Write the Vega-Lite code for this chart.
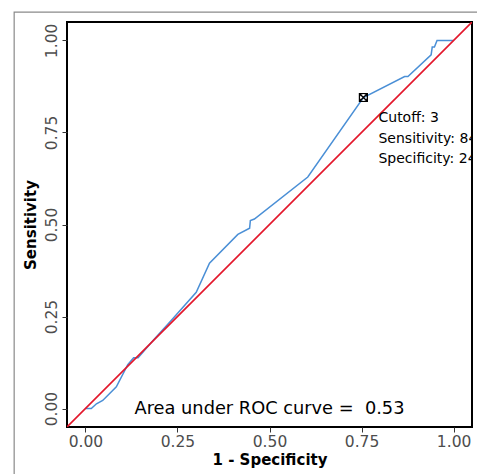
{
  "$schema": "https://vega.github.io/schema/vega-lite/v6.json",
  "width": 405,
  "height": 405,
  "autosize": "none",
  "padding": {"left": 67, "top": 22, "right": 5, "bottom": 47},
  "background": "white",
  "config": {
    "font": "DejaVu Sans",
    "view": {"stroke": "black", "strokeWidth": 2},
    "axis": {
      "grid": false,
      "domain": false,
      "ticks": true,
      "tickSize": 5,
      "tickColor": "#333333",
      "tickWidth": 1,
      "labelFont": "DejaVu Sans",
      "labelFontSize": 15.5,
      "labelColor": "#4D4D4D",
      "titleFont": "DejaVu Sans",
      "titleFontSize": 15,
      "titleFontWeight": "bold",
      "titleColor": "black"
    }
  },
  "datasets": {
    "roc": [
      {"fpr": 0.0, "tpr": 0.0},
      {"fpr": 0.016, "tpr": 0.0},
      {"fpr": 0.03, "tpr": 0.013},
      {"fpr": 0.047, "tpr": 0.022},
      {"fpr": 0.084, "tpr": 0.059},
      {"fpr": 0.115, "tpr": 0.119},
      {"fpr": 0.131, "tpr": 0.138},
      {"fpr": 0.143, "tpr": 0.138},
      {"fpr": 0.188, "tpr": 0.19},
      {"fpr": 0.233, "tpr": 0.239},
      {"fpr": 0.301, "tpr": 0.316},
      {"fpr": 0.337, "tpr": 0.395},
      {"fpr": 0.414, "tpr": 0.473},
      {"fpr": 0.446, "tpr": 0.49},
      {"fpr": 0.448, "tpr": 0.511},
      {"fpr": 0.459, "tpr": 0.515},
      {"fpr": 0.604, "tpr": 0.629},
      {"fpr": 0.755, "tpr": 0.845},
      {"fpr": 0.867, "tpr": 0.902},
      {"fpr": 0.876, "tpr": 0.902},
      {"fpr": 0.939, "tpr": 0.961},
      {"fpr": 0.942, "tpr": 0.982},
      {"fpr": 0.948, "tpr": 0.982},
      {"fpr": 0.955, "tpr": 1.0},
      {"fpr": 1.0, "tpr": 1.0}
    ],
    "diag": [
      {"fpr": -0.05, "tpr": -0.05},
      {"fpr": 1.05, "tpr": 1.05}
    ],
    "cut": [{"fpr": 0.755, "tpr": 0.845}],
    "labels": [
      {"fpr": 0.796, "tpr": 0.788, "text": "Cutoff: 3"},
      {"fpr": 0.796, "tpr": 0.733, "text": "Sensitivity: 84%"},
      {"fpr": 0.796, "tpr": 0.678, "text": "Specificity: 24%"}
    ],
    "auc": [{"fpr": 0.5, "tpr": 0.0, "text": "Area under ROC curve = \u00a00.53"}],
    "frame": [{"x1": -0.1935, "x2": 1.4, "y1": 1.077, "y2": -0.4}]
  },
  "encoding": {
    "x": {
      "field": "fpr",
      "type": "quantitative",
      "scale": {"domain": [-0.05, 1.05], "nice": false, "zero": false},
      "axis": {
        "title": "1 - Specificity",
        "values": [0, 0.25, 0.5, 0.75, 1],
        "format": ".2f",
        "labelPadding": 2,
        "titlePadding": 3
      }
    },
    "y": {
      "field": "tpr",
      "type": "quantitative",
      "scale": {"domain": [-0.05, 1.05], "nice": false, "zero": false},
      "axis": {
        "title": "Sensitivity",
        "values": [0, 0.25, 0.5, 0.75, 1],
        "format": ".2f",
        "labelAngle": -90,
        "labelAlign": "center",
        "labelBaseline": "bottom",
        "labelPadding": 3,
        "titlePadding": 6
      }
    }
  },
  "layer": [
    {
      "data": {"name": "frame"},
      "mark": {"type": "rect", "fill": null, "stroke": "#8a8a8a", "strokeWidth": 1.2, "clip": false},
      "encoding": {
        "x": {"field": "x1", "type": "quantitative"},
        "x2": {"field": "x2"},
        "y": {"field": "y1", "type": "quantitative"},
        "y2": {"field": "y2"}
      }
    },
    {
      "data": {"name": "roc"},
      "mark": {"type": "line", "color": "#4a8fd6", "strokeWidth": 1.5, "clip": true},
      "encoding": {"order": {"field": "fpr", "type": "quantitative"}}
    },
    {
      "data": {"name": "diag"},
      "mark": {"type": "line", "color": "#e3172b", "strokeWidth": 1.6, "clip": true},
      "encoding": {}
    },
    {
      "data": {"name": "cut"},
      "mark": {"type": "point", "shape": "M-1,-1H1V1H-1Z M-1,-1L1,1 M1,-1L-1,1 M1,0A1,1,0,1,1,-1,0A1,1,0,1,1,1,0", "size": 64, "stroke": "black", "strokeWidth": 1.2, "filled": false, "opacity": 1},
      "encoding": {}
    },
    {
      "data": {"name": "labels"},
      "mark": {"type": "text", "align": "left", "baseline": "middle", "fontSize": 14, "color": "black", "clip": true, "font": "DejaVu Sans"},
      "encoding": {"text": {"field": "text"}}
    },
    {
      "data": {"name": "auc"},
      "mark": {"type": "text", "align": "center", "baseline": "middle", "fontSize": 17.8, "color": "black", "font": "DejaVu Sans"},
      "encoding": {"text": {"field": "text"}}
    }
  ]
}
